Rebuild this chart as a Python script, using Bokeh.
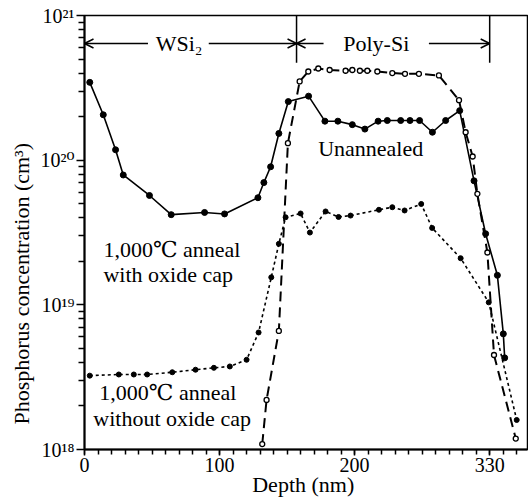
import math
from bokeh.plotting import figure
from bokeh.models import FixedTicker, Label, Arrow, OpenHead, Range1d, Title
from bokeh.embed import file_html
from bokeh.resources import INLINE

# ---------------- data ----------------
unannealed_depth = [3.9, 13.9, 23.0, 28.7, 48.1, 64.2, 88.9, 103.7, 128.4, 132.8, 137.8,
                    143.9, 150.9, 165.9, 178.0, 187.6, 198.3, 207.6, 217.4, 224.2, 234.1,
                    241.0, 248.1, 257.6, 267.4, 277.8, 288.4, 297.0, 305.7, 310.1, 311.1]
unannealed_conc = [3.45e20, 2.06e20, 1.18e20, 7.9e19, 5.7e19, 4.2e19, 4.35e19, 4.25e19, 5.5e19,
                   7.0e19, 9.0e19, 1.53e20, 2.54e20, 2.77e20, 1.86e20, 1.86e20, 1.76e20, 1.64e20,
                   1.86e20, 1.88e20, 1.88e20, 1.88e20, 1.88e20, 1.56e20, 1.88e20, 2.2e20, 7.2e19,
                   3.1e19, 1.6e19, 6.3e18, 4.3e18]

no_cap_depth = [131.6, 134.8, 143.9, 150.6, 159.3, 165.7, 173.1, 181.5, 193.3, 198.3, 203.9,
                209.4, 216.8, 227.9, 237.3, 247.6, 262.4, 277.3, 282.2, 287.4, 290.9, 298.3,
                303.2, 319.3]
no_cap_conc = [1.09e18, 2.2e18, 6.6e18, 1.31e20, 3.5e20, 4.1e20, 4.3e20, 4.2e20, 4.15e20, 4.2e20,
               4.15e20, 4.15e20, 4.1e20, 4.0e20, 3.95e20, 3.95e20, 3.85e20, 2.6e20, 1.56e20,
               1.06e20, 5.85e19, 2.3e19, 4.5e18, 1.19e18]

cap_depth = [3.9, 25.4, 36.5, 46.4, 65.0, 82.2, 95.8, 107.6, 120.0, 128.9, 138.3, 143.9, 148.9,
             160.0, 166.9, 178.5, 188.1, 197.0, 218.0, 227.9, 237.0, 249.3, 257.4, 278.5, 299.3,
             320.0]
cap_conc = [3.24e18, 3.30e18, 3.30e18, 3.30e18, 3.42e18, 3.56e18, 3.67e18, 3.75e18, 4.17e18,
            6.44e18, 1.55e19, 2.64e19, 4.03e19, 4.28e19, 3.16e19, 4.42e19, 4.05e19, 4.14e19,
            4.54e19, 4.73e19, 4.49e19, 4.98e19, 3.40e19, 2.10e19, 1.04e19, 1.60e18]

x_ticks = [0, 100, 200, 300]
x_tick_labels = ["0", "100", "200", "330"]
y_ticks = [1e18, 1e19, 1e20, 1e21]
y_tick_labels = ["10\u00b9\u2078", "10\u00b9\u2079", "10\u00b2\u2070", "10\u00b2\u00b9"]

# layer boundaries (nm) and layer-label line height
wsi2_end = 157
poly_end = 300
layer_line_y = 6.4e20
layer_bar_bottom = 4.72e20

SERIF = "Liberation Serif, DejaVu Serif, Noto Sans CJK JP"

p = figure(frame_width=443, frame_height=434, y_axis_type="log",
           x_range=Range1d(0, 328), y_range=Range1d(1e18, 1e21),
           output_backend="svg", toolbar_location=None,
           min_border_left=84, min_border_right=1, min_border_top=15, min_border_bottom=50)
p.xgrid.visible = False
p.ygrid.visible = False
p.background_fill_color = "white"
p.border_fill_color = "white"
p.outline_line_color = "black"
p.outline_line_width = 1.5

# axes
p.xaxis.ticker = FixedTicker(ticks=x_ticks, minor_ticks=list(range(0, 330, 10)))
p.xaxis.major_label_overrides = {t: l for t, l in zip(x_ticks, x_tick_labels)}
p.yaxis.ticker = FixedTicker(ticks=y_ticks,
                             minor_ticks=[m * 10 ** d for d in range(18, 21) for m in range(2, 10)])
p.yaxis.major_label_overrides = {t: l for t, l in zip(y_ticks, y_tick_labels)}
for ax in (p.xaxis[0], p.yaxis[0]):
    ax.axis_line_width = 2
    ax.axis_line_color = "black"
    ax.major_tick_line_width = 1.5
    ax.minor_tick_line_width = 1.5
    ax.major_tick_in = 0
    ax.minor_tick_in = 0
    ax.major_label_text_font = SERIF
    ax.major_label_text_font_size = "20px"
    ax.major_label_text_color = "black"
    ax.major_label_standoff = 2
p.xaxis.major_tick_out = 6
p.xaxis.minor_tick_out = 5
p.yaxis.major_tick_out = 8
p.yaxis.minor_tick_out = 6

p.xaxis.axis_label = "Depth  (nm)"
p.xaxis.axis_label_text_font = SERIF
p.xaxis.axis_label_text_font_size = "22px"
p.xaxis.axis_label_text_font_style = "normal"
p.xaxis.axis_label_text_color = "black"
p.xaxis.axis_label_standoff = -3

p.add_layout(Title(text="Phosphorus  concentration  (cm\u00b3)", align="left", offset=25,
                   text_font=SERIF, text_font_size="22px", text_font_style="normal",
                   text_color="black", standoff=8), "left")

# series
p.line(unannealed_depth, unannealed_conc, line_color="black", line_width=1.6)
p.scatter(unannealed_depth, unannealed_conc, marker="circle", size=6, color="black")

p.line(no_cap_depth, no_cap_conc, line_color="black", line_width=2, line_dash="10 6")
p.scatter(no_cap_depth, no_cap_conc, marker="circle", size=5, line_color="black",
          fill_color="white", line_width=1.3)

p.line(cap_depth, cap_conc, line_color="black", line_width=1.6, line_dash="3 3")
p.scatter(cap_depth, cap_conc, marker="circle", size=5, color="black")

# layer indicator
head = dict(size=9, line_width=1.5, line_color="black")
p.add_layout(Arrow(end=OpenHead(**head), x_start=47, y_start=layer_line_y, x_end=0, y_end=layer_line_y,
                   line_width=1.5))
p.add_layout(Arrow(end=OpenHead(**head), x_start=92, y_start=layer_line_y, x_end=wsi2_end,
                   y_end=layer_line_y, line_width=1.5))
p.add_layout(Arrow(end=OpenHead(**head), x_start=177, y_start=layer_line_y, x_end=wsi2_end,
                   y_end=layer_line_y, line_width=1.5))
p.add_layout(Arrow(end=OpenHead(**head), x_start=255, y_start=layer_line_y, x_end=poly_end,
                   y_end=layer_line_y, line_width=1.5))
p.segment(x0=[wsi2_end, poly_end], y0=[layer_bar_bottom] * 2, x1=[wsi2_end, poly_end], y1=[1e21] * 2,
          line_color="black", line_width=1.5)


def lab(text, x, y, size="22px", align="left"):
    p.add_layout(Label(x=x, y=y, text=text, text_font=SERIF, text_font_size=size,
                       text_align=align, text_baseline="middle", text_color="black"))


lab("WSi\u2082", 70, layer_line_y, align="center")
lab("Poly-Si", 216, layer_line_y, align="center")
lab("Unannealed", 173, 1.2e20)
lab("1,000\u2103  anneal", 14, 2.41e19)
lab("with  oxide  cap", 14, 1.62e19)
lab("1,000\u2103  anneal", 11, 2.48e18)
lab("without  oxide  cap", 6.5, 1.64e18)

open("out.html", "w").write(file_html(p, INLINE))
